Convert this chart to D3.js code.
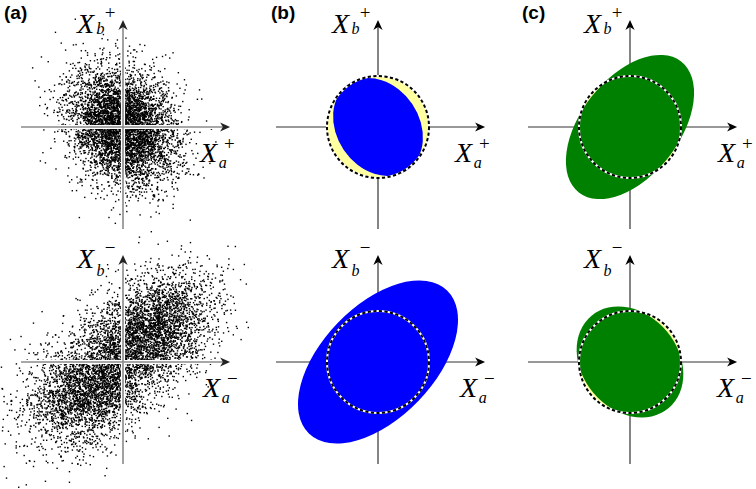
<!DOCTYPE html>
<html>
<head>
<meta charset="utf-8">
<script src="https://cdn.jsdelivr.net/npm/d3@7"></script>
<style>
  html, body { margin: 0; padding: 0; background: #fff; }
  svg { display: block; }
</style>
</head>
<body>
<svg id="fig" width="756" height="489"></svg>
<script>
// ---------------- data ----------------
const panelLetters = ["(a)", "(b)", "(c)"];
const quadratureSigns = ["+", "\u2212"];           // top row: X^+, bottom row: X^-
// vacuum (coherent-state) reference circle, in units of vacuum noise
const vacuumRadius = [1];
// noise ellipses for panels (b) and (c): [b+, b-, c+, c-]
const ellipseSemiMajor = [1.02, 1.95, 1.63, 1.18];
const ellipseSemiMinor = [0.81, 1.10, 0.96, 0.94];
const ellipseAngleDeg  = [-56, 46, 52, -50];
// scatter cloud of panel (a), top row (single Gaussian)
const cloudPlusCount = [5600];
const cloudPlusSigma = [0.52, 0.57];   // sigma_a, sigma_b
const cloudPlusRho   = [-0.22];
// scatter cloud of panel (a), bottom row (two Gaussian lobes)
const cloudMinusCount = [3300, 3300];
const cloudMinusMeanA = [0.55, -0.62];
const cloudMinusMeanB = [0.62, -0.52];
const cloudMinusSigmaMajor = [0.70, 0.70];
const cloudMinusSigmaMinor = [0.48, 0.48];
const cloudMinusAngleDeg   = [38, 38];
const axisMin = [-2], axisMax = [2.1];

// ---------------- layout ----------------
const svg = d3.select("#fig");
const R = 51;                                   // px per unit
const colX = [123, 378, 630];
const rowY = [127, 362];

function scalesFor(cx, cy) {
  return {
    x: d3.scaleLinear().domain([-1, 1]).range([cx - R, cx + R]),
    y: d3.scaleLinear().domain([-1, 1]).range([cy + R, cy - R])
  };
}

// deterministic sampler (seeded)
const lcg = d3.randomLcg(0.271828);
const normal = d3.randomNormal.source(lcg)(0, 1);

function samplePlus() {
  const pts = [];
  const [sa, sb] = cloudPlusSigma, rho = cloudPlusRho[0];
  for (let i = 0; i < cloudPlusCount[0]; i++) {
    const z1 = normal(), z2 = normal();
    pts.push([sa * z1, sb * (rho * z1 + Math.sqrt(1 - rho * rho) * z2)]);
  }
  return pts;
}
function sampleMinus() {
  const pts = [];
  cloudMinusCount.forEach((n, k) => {
    const t = cloudMinusAngleDeg[k] * Math.PI / 180;
    const s1 = cloudMinusSigmaMajor[k], s2 = cloudMinusSigmaMinor[k];
    for (let i = 0; i < n; i++) {
      const z1 = normal() * s1, z2 = normal() * s2;
      pts.push([cloudMinusMeanA[k] + Math.cos(t) * z1 - Math.sin(t) * z2,
                cloudMinusMeanB[k] + Math.sin(t) * z1 + Math.cos(t) * z2]);
    }
  });
  return pts;
}

// clip paths for the two scatter clouds
const defs = svg.append("defs");
defs.append("clipPath").attr("id", "clipTop").append("rect")
  .attr("x", 0).attr("y", 0).attr("width", 252).attr("height", 233);
defs.append("clipPath").attr("id", "clipBot").append("rect")
  .attr("x", 0).attr("y", 233).attr("width", 252).attr("height", 256);

const arrowPath = "M0,0 L-10,-4.6 L-7.2,0 L-10,4.6 Z";

function drawAxes(g, s, style) {
  const x0 = s.x(axisMin[0]), x1 = s.x(axisMax[0]);
  const y0 = s.y(axisMin[0]), y1 = s.y(axisMax[0]);
  const cx = s.x(0), cy = s.y(0);
  if (style.halo) {
    g.append("line").attr("x1", x0).attr("x2", x1 - 4).attr("y1", cy).attr("y2", cy)
      .attr("stroke", "#fff").attr("stroke-width", 4.2);
    g.append("line").attr("x1", cx).attr("x2", cx).attr("y1", y0).attr("y2", y1 + 4)
      .attr("stroke", "#fff").attr("stroke-width", 4.2);
  }
  g.append("line").attr("x1", x0).attr("x2", x1 - 4).attr("y1", cy).attr("y2", cy)
    .attr("stroke", style.color).attr("stroke-width", style.width);
  g.append("line").attr("x1", cx).attr("x2", cx).attr("y1", y0).attr("y2", y1 + 4)
    .attr("stroke", style.color).attr("stroke-width", style.width);
  g.append("path").attr("d", arrowPath).attr("fill", style.head)
    .attr("transform", `translate(${x1},${cy})`);
  g.append("path").attr("d", arrowPath).attr("fill", style.head)
    .attr("transform", `translate(${cx},${y1}) rotate(-90)`);
}

const serif = "'Liberation Serif', 'DejaVu Serif', serif";
// one text element per label: X, superscript sign, then subscript stepped back under it
function quadLabel(g, x, y, sub, sign, supDx, supDy, subDx, subDy) {
  const t = g.append("text").attr("x", x).attr("y", y).attr("font-family", serif);
  t.append("tspan").attr("font-style", "italic").attr("font-size", 28).text("X");
  t.append("tspan").attr("font-size", 19).attr("dx", supDx).attr("dy", supDy).text(sign);
  t.append("tspan").attr("font-style", "italic").attr("font-size", 16)
    .attr("dx", subDx).attr("dy", subDy).text(sub);
}

function drawLabels(g, s, sign, row, col) {
  const cx = s.x(0), cy = s.y(0);
  // vertical-axis label X_b^{sign}
  quadLabel(g, cx - 46, cy - 94, "b", sign, 10.6, -14, -19, row === 0 ? 15 : 22);
  // horizontal-axis label X_a^{sign}
  const axOff = [[77, 77, 88], [80, 82, 87]][row][col];
  quadLabel(g, cx + axOff, cy + 35, "a", sign, 7, -12, -16, 18);
}

// ---------------- panel (a): scatter clouds ----------------
[samplePlus(), sampleMinus()].forEach((pts, row) => {
  const s = scalesFor(colX[0], rowY[row]);
  const g = svg.append("g");
  g.append("g").attr("clip-path", `url(#${row === 0 ? "clipTop" : "clipBot"})`)
    .selectAll("rect").data(pts).join("rect")
    .attr("x", d => s.x(d[0]) - 0.7).attr("y", d => s.y(d[1]) - 0.7)
    .attr("width", 1.4).attr("height", 1.4).attr("fill", "#000");
  drawAxes(g, s, { color: "#8a8a8a", head: "#222", width: 1.6, halo: true });
  drawLabels(g, s, quadratureSigns[row], row, 0);
});

// ---------------- panels (b), (c): noise ellipses ----------------
const fillColors = ["#0000ff", "#008000"];
[1, 2].forEach(col => {
  [0, 1].forEach(row => {
    const k = (col - 1) * 2 + row;
    const s = scalesFor(colX[col], rowY[row]);
    const g = svg.append("g");
    drawAxes(g, s, { color: "#333", head: "#000", width: 1.2, halo: false });
    const cx = s.x(0), cy = s.y(0);
    const rPx = s.x(vacuumRadius[0]) - cx;
    // vacuum circle fill
    g.append("circle").attr("cx", cx).attr("cy", cy).attr("r", rPx).attr("fill", "#ffffa0");
    // noise ellipse
    const rx = s.x(ellipseSemiMajor[k]) - cx;
    const ry = cy - s.y(ellipseSemiMinor[k]);
    g.append("ellipse").attr("cx", cx).attr("cy", cy).attr("rx", rx).attr("ry", ry)
      .attr("transform", `rotate(${-ellipseAngleDeg[k]},${cx},${cy})`)
      .attr("fill", fillColors[col - 1]);
    // dashed vacuum outline
    g.append("circle").attr("cx", cx).attr("cy", cy).attr("r", rPx)
      .attr("fill", "none").attr("stroke", "#fff").attr("stroke-width", 2);
    g.append("circle").attr("cx", cx).attr("cy", cy).attr("r", rPx)
      .attr("fill", "none").attr("stroke", "#000").attr("stroke-width", 2)
      .attr("stroke-dasharray", "3.2,2.4");
    drawLabels(g, s, quadratureSigns[row], row, col);
  });
});

// ---------------- panel letters ----------------
svg.selectAll("text.letter").data(panelLetters).join("text")
  .attr("class", "letter")
  .attr("x", (d, i) => [4, 271, 522][i]).attr("y", 19)
  .attr("font-family", "'Liberation Sans', Arial, sans-serif")
  .attr("font-weight", "bold").attr("font-size", 19)
  .text(d => d);
</script>
</body>
</html>
